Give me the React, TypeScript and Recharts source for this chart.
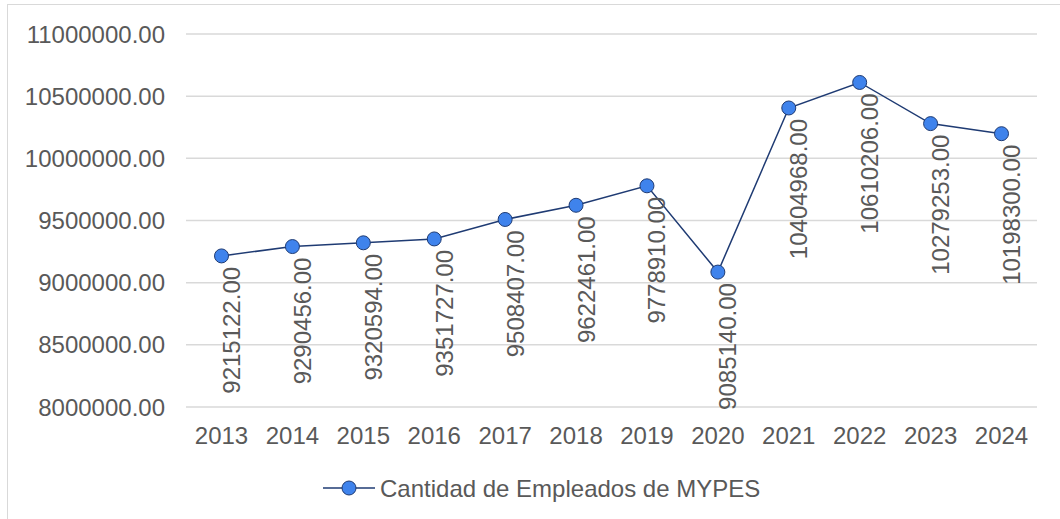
import React from "react";
import {
  LineChart,
  Line,
  XAxis,
  YAxis,
  CartesianGrid,
  Legend,
  LabelList
} from "recharts";

// Chart values
const YEARS = ["2013", "2014", "2015", "2016", "2017", "2018", "2019", "2020", "2021", "2022", "2023", "2024"];
const EMPLEADOS = [
  9215122, 9290456, 9320594, 9351727, 9508407, 9622461,
  9778910, 9085140, 10404968, 10610206, 10279253, 10198300
];
const Y_TICKS = [8000000, 8500000, 9000000, 9500000, 10000000, 10500000, 11000000];
const SERIES_NAME = "Cantidad de Empleados de MYPES";

const data = YEARS.map((year, i) => ({ year, value: EMPLEADOS[i] }));

const FONT = "'Liberation Sans', Arial, sans-serif";
const TEXT = "#595959";
const LINE = "#1f3b73";
const DOT = "#3f83ec";
const FS = 24;

const renderValueLabel = (props: any) => {
  const { x, y, value } = props;
  const lx = x + 10;
  const ly = y + 11;
  return (
    <text
      x={lx}
      y={ly}
      transform={`rotate(-90, ${lx}, ${ly})`}
      textAnchor="end"
      dominantBaseline="central"
      fill={TEXT}
      fontSize={FS}
      fontFamily={FONT}
    >
      {Number(value).toFixed(2)}
    </text>
  );
};

const renderLegend = () => (
  <svg width={470} height={30} style={{ display: "block" }}>
    <line x1={2} y1={15} x2={54} y2={15} stroke={LINE} strokeWidth={1.5} />
    <circle cx={28} cy={15} r={7} fill={DOT} stroke={LINE} strokeWidth={1} />
    <text x={59} y={15} dominantBaseline="central" fill={TEXT} fontSize={FS} fontFamily={FONT}>
      {SERIES_NAME}
    </text>
  </svg>
);

export default function App() {
  return (
    <div style={{ position: "absolute", left: 0, top: 0, width: 1060, height: 519, background: "#fff", overflow: "hidden" }}>
      <div
        style={{
          position: "absolute",
          left: 7,
          top: 4,
          width: 1100,
          height: 560,
          border: "1.5px solid #d9d9d9"
        }}
      />
      <LineChart
        width={1060}
        height={519}
        data={data}
        margin={{ top: 34, right: 23, left: 0, bottom: 16 }}
      >
        <CartesianGrid vertical={false} stroke="#d9d9d9" strokeWidth={1.5} />
        <XAxis
          dataKey="year"
          axisLine={false}
          tickLine={false}
          tickSize={0}
          tickMargin={20}
          height={66}
          interval={0}
          padding={{ left: 35.5, right: 35.5 }}
          tick={{ fill: TEXT, fontSize: FS, fontFamily: FONT }}
        />
        <YAxis
          domain={[8000000, 11000000]}
          ticks={Y_TICKS}
          axisLine={false}
          tickLine={false}
          tickSize={0}
          tickMargin={21}
          width={186}
          tickFormatter={(v: number) => v.toFixed(2)}
          tick={{ fill: TEXT, fontSize: FS, fontFamily: FONT }}
        />
        <Legend
          verticalAlign="bottom"
          height={30}
          content={renderLegend}
          wrapperStyle={{ left: 321, width: 470 }}
        />
        <Line
          type="linear"
          dataKey="value"
          name={SERIES_NAME}
          stroke={LINE}
          strokeWidth={1.5}
          dot={{ r: 7, fill: DOT, stroke: LINE, strokeWidth: 1 }}
          isAnimationActive={false}
        >
          <LabelList dataKey="value" content={renderValueLabel} />
        </Line>
      </LineChart>
    </div>
  );
}
